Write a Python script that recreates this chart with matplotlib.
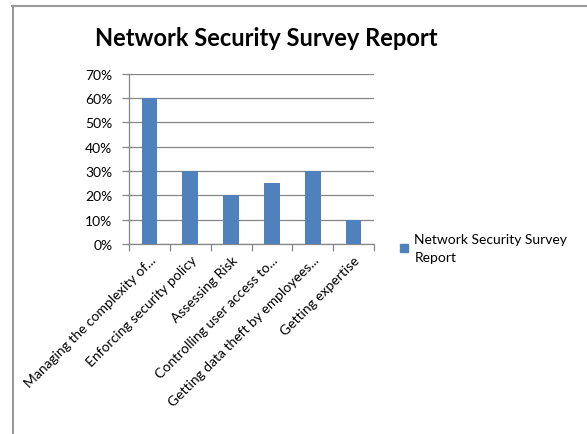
import matplotlib
matplotlib.use('Agg')
import matplotlib.pyplot as plt
from matplotlib.lines import Line2D
from matplotlib.ticker import FixedLocator, FuncFormatter
import numpy as np

# data
categories = ['Managing the complexity of...', 'Enforcing security policy', 'Assessing Risk',
              'Controlling user access to...', 'Getting data theft by employees...', 'Getting expertise']
values = [0.60, 0.30, 0.20, 0.25, 0.30, 0.10]
series_name = 'Network Security Survey\nReport'
title = 'Network Security Survey Report'

plt.rcParams['font.family'] = ['Lato', 'DejaVu Sans']
grey = '#868686'
bar_color = '#4F81BD'

fig = plt.figure(figsize=(5.87, 4.35), dpi=100)
ax = fig.add_axes([129/587, 1-245/435, (374-129)/587, (245-74.7)/435])

x = np.arange(len(categories))
ax.bar(x, values, width=0.38, color=bar_color, zorder=3)

ax.set_xlim(-0.5, len(categories) - 0.5)
ax.set_ylim(0, 0.70)
ax.set_yticks(np.arange(0, 0.71, 0.10))
ax.yaxis.set_major_formatter(FuncFormatter(lambda v, p: f'{v*100:.0f}%'))
ax.grid(axis='y', color=grey, linewidth=0.9, zorder=0)

ax.set_xticks(x)
ax.set_xticklabels(categories, rotation=45, ha='right', rotation_mode='anchor')
ax.xaxis.set_minor_locator(FixedLocator(np.arange(-0.5, len(categories), 1.0)))
ax.tick_params(axis='x', which='major', length=0, pad=7, labelsize=10, colors='black')
ax.tick_params(axis='x', which='minor', length=5, color=grey, width=0.9)
ax.tick_params(axis='y', length=5, color=grey, width=0.9, labelsize=10, pad=7)

for s in ['top', 'right']:
    ax.spines[s].set_visible(False)
for s in ['left', 'bottom']:
    ax.spines[s].set_color(grey)
    ax.spines[s].set_linewidth(0.9)

fig.text(266/587, 1-38/435, title, ha='center', va='center', fontsize=17, fontweight='bold')

# legend
handle = Line2D([], [], marker='s', markersize=5.5, color=bar_color, linestyle='None')
leg = fig.legend([handle], [series_name], loc='upper left',
                 bbox_to_anchor=(386/587, 1-222/435), frameon=False, fontsize=10,
                 handlelength=0.8, handletextpad=0.35)
for t in leg.get_texts():
    t.set_linespacing(1.55)

# chart frame
fig.add_artist(Line2D([12/587, 1], [1-7/435, 1-7/435], color='#999999', linewidth=1.5))
fig.add_artist(Line2D([13/587, 13/587], [0, 1-7/435], color='#999999', linewidth=1.5))

fig.savefig('out.png', dpi=100)
